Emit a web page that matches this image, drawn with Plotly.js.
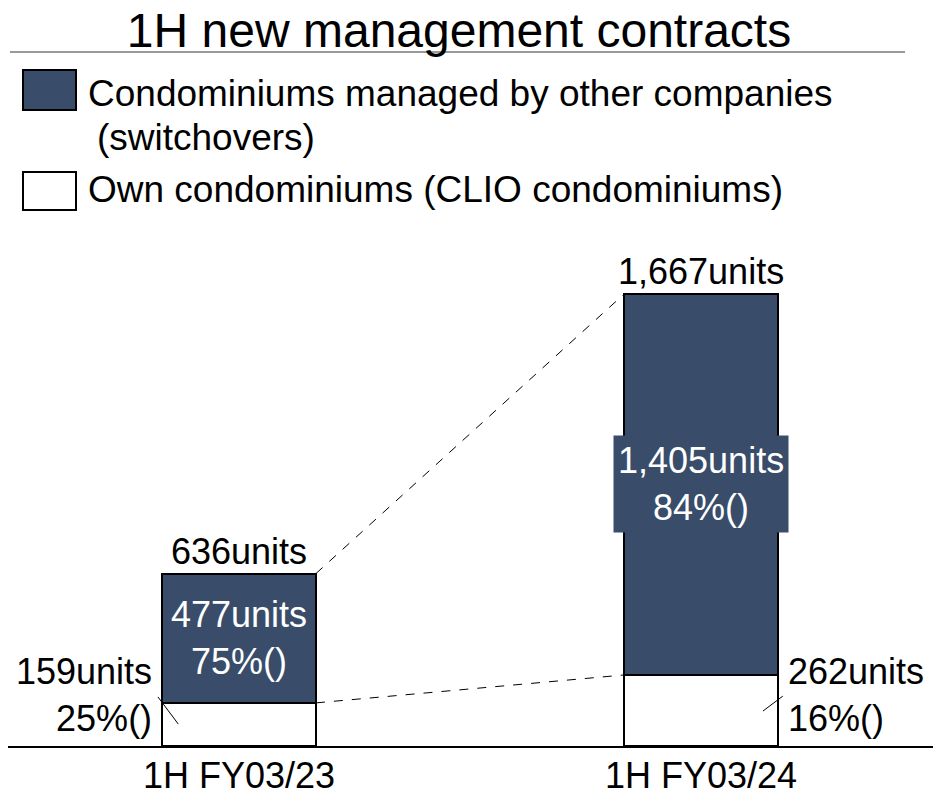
<!DOCTYPE html>
<html>
<head>
<meta charset="utf-8">
<script src="https://cdn.plot.ly/plotly-3.0.1.min.js"></script>
<style>
  html, body { margin: 0; padding: 0; background: #fff; }
  #chart { width: 933px; height: 796px; }
</style>
</head>
<body>
<div id="chart"></div>
<script>
'use strict';

// periods (x categories)
var periods = ['1H FY03/23', '1H FY03/24'];

// units per segment
var ownUnits = [159, 262];        // own condominiums (CLIO)
var otherUnits = [477, 1405];     // switchovers
var totalUnits = [636, 1667];

// label texts
var ownPct = ['25%()', '16%()'];
var otherPct = ['75%()', '84%()'];
var totalText = ['636units', '1,667units'];
var ownText = ['159units', '262units'];
var otherText = ['477units', '1,405units'];

var seriesNames = [
    'Condominiums managed by other companies',
    '(switchovers)',
    'Own condominiums (CLIO condominiums)'
];

var navy = '#394d6b';
var font = 'Arial, "Liberation Sans", sans-serif';
var barW = 0.333;

// plot area: left 8px, bottom 50px, full height above
var W = 933, H = 796, mL = 8, mB = 50;
var plotW = W - mL, plotH = H - mB;
function px(x) { return (x - mL) / plotW; }
function py(y) { return (plotH - y) / plotH; }

var yTop = totalUnits[1] * plotH / 452;

var traceOwn = {
    x: periods,
    y: ownUnits,
    type: 'bar',
    width: barW,
    marker: {color: '#ffffff', line: {color: '#000', width: 2}},
    hoverinfo: 'skip'
};

var traceOther = {
    x: periods,
    y: otherUnits,
    type: 'bar',
    width: barW,
    marker: {color: navy, line: {color: '#000', width: 2}},
    hoverinfo: 'skip'
};

var shapes = [
    // rule under title
    {type: 'line', xref: 'paper', yref: 'paper', x0: px(10), x1: px(905), y0: py(52), y1: py(52),
     line: {color: '#999', width: 2}},
    // legend swatches
    {type: 'rect', xref: 'paper', yref: 'paper', x0: px(23), x1: px(76), y0: py(70), y1: py(110),
     fillcolor: navy, line: {color: '#000', width: 2}},
    {type: 'rect', xref: 'paper', yref: 'paper', x0: px(23), x1: px(76), y0: py(172), y1: py(210),
     fillcolor: '#fff', line: {color: '#000', width: 2}},
    // dashed connectors between the bars
    {type: 'line', x0: barW / 2, y0: totalUnits[0], x1: 1 - barW / 2, y1: totalUnits[1],
     line: {color: '#000', width: 1, dash: 'dash'}},
    {type: 'line', x0: barW / 2, y0: ownUnits[0], x1: 1 - barW / 2, y1: ownUnits[1],
     line: {color: '#000', width: 1, dash: 'dash'}},
    // leader lines for own-condo labels
    {type: 'line', x0: -barW / 2 - 0.009, y0: ownUnits[0] + 22, x1: -barW / 2 + 0.035, y1: 81,
     line: {color: '#000', width: 1}},
    {type: 'line', x0: 1.134, y0: 129, x1: 1.177, y1: 184,
     line: {color: '#000', width: 1}}
];

var annotations = [
    // legend text
    {xref: 'paper', yref: 'paper', x: px(86), y: py(94), xanchor: 'left', yanchor: 'middle',
     text: seriesNames[0], showarrow: false, font: {size: 37, color: '#000'}},
    {xref: 'paper', yref: 'paper', x: px(95), y: py(137), xanchor: 'left', yanchor: 'middle',
     text: seriesNames[1], showarrow: false, font: {size: 37, color: '#000'}},
    {xref: 'paper', yref: 'paper', x: px(86), y: py(190), xanchor: 'left', yanchor: 'middle',
     text: seriesNames[2], showarrow: false, font: {size: 37, color: '#000'}}
];

for (var i = 0; i < periods.length; i++) {
    // total on top
    annotations.push({
        x: i, y: totalUnits[i], yanchor: 'bottom', yshift: 0,
        text: totalText[i], showarrow: false, font: {size: 36, color: '#000'}
    });
    // switchover label inside bar
    annotations.push({
        x: i, y: ownUnits[i] + otherUnits[i] / 2, yanchor: 'middle',
        text: otherText[i] + '<br>' + otherPct[i], showarrow: false,
        font: {size: 36, color: '#fff'},
        bgcolor: i === 1 ? navy : 'rgba(0,0,0,0)', borderpad: 4
    });
}

// own condo labels beside bars
annotations.push({
    x: -barW / 2, y: ownUnits[0], xanchor: 'right', yanchor: 'middle', xshift: -8, yshift: 8,
    text: ownText[0] + '<br>' + ownPct[0], align: 'right', showarrow: false,
    font: {size: 36, color: '#000'}
});
annotations.push({
    x: 1 + barW / 2, y: ownUnits[1], xanchor: 'left', yanchor: 'middle', xshift: 8, yshift: -20,
    text: ownText[1] + '<br>' + ownPct[1], align: 'left', showarrow: false,
    font: {size: 36, color: '#000'}
});

var layout = {
    width: W,
    height: H,
    margin: {l: mL, r: 0, t: 0, b: mB},
    paper_bgcolor: '#fff',
    plot_bgcolor: '#fff',
    font: {family: font, color: '#000'},
    barmode: 'stack',
    showlegend: false,
    title: {
        text: '1H new management contracts',
        font: {size: 48, color: '#000'},
        x: 0.492, xanchor: 'center',
        y: 1 - 30 / H, yanchor: 'middle'
    },
    xaxis: {
        type: 'category',
        range: [-0.5, 1.502],
        showline: true,
        linecolor: '#000',
        linewidth: 1.5,
        showgrid: false,
        ticks: '',
        ticklabelstandoff: -3,
        tickfont: {size: 36, color: '#000'},
        fixedrange: true
    },
    yaxis: {
        range: [0, yTop],
        showgrid: false,
        zeroline: false,
        showticklabels: false,
        ticks: '',
        fixedrange: true
    },
    shapes: shapes,
    annotations: annotations
};

Plotly.newPlot('chart', [traceOwn, traceOther], layout, {displayModeBar: false, staticPlot: true});
</script>
</body>
</html>
